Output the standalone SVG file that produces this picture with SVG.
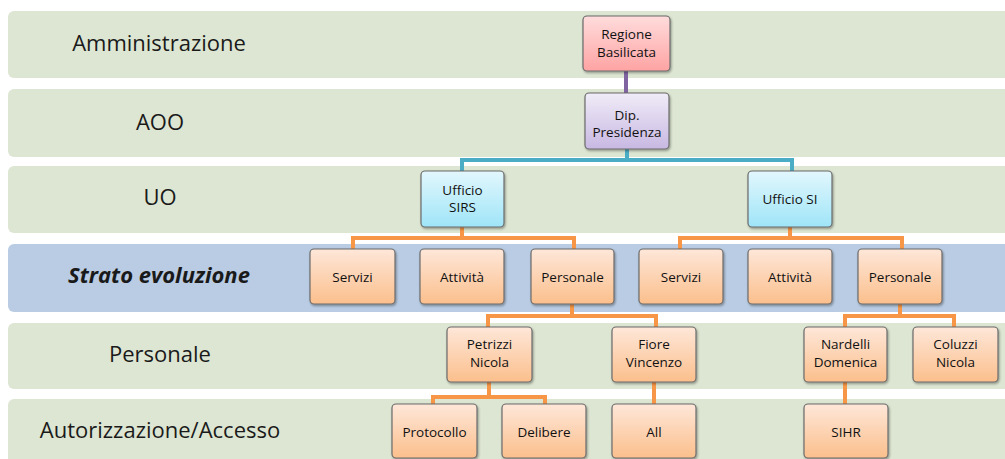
<svg xmlns="http://www.w3.org/2000/svg" width="1005" height="459" viewBox="0 0 1005 459">
<defs>
<linearGradient id="gPink" x1="0" y1="0" x2="0" y2="1"><stop offset="0" stop-color="#ffdcdc"/><stop offset="1" stop-color="#ffa3a3"/></linearGradient>
<linearGradient id="gLav" x1="0" y1="0" x2="0" y2="1"><stop offset="0" stop-color="#f0ecf8"/><stop offset="1" stop-color="#c8b8e2"/></linearGradient>
<linearGradient id="gCyan" x1="0" y1="0" x2="0" y2="1"><stop offset="0" stop-color="#e2f7fd"/><stop offset="1" stop-color="#9fe5f8"/></linearGradient>
<linearGradient id="gOr" x1="0" y1="0" x2="0" y2="1"><stop offset="0" stop-color="#fee7d9"/><stop offset="1" stop-color="#fbbf8c"/></linearGradient>
<filter id="sh" x="-10%" y="-10%" width="130%" height="130%"><feDropShadow dx="1" dy="1.5" stdDeviation="1.2" flood-color="#000" flood-opacity="0.35"/></filter>
<style>
.band{fill:#dde6d2}
.bandb{fill:#b9cce3}
.lbl{font-family:"Open Sans","Liberation Sans",sans-serif;font-size:22px;fill:#1a1a1a;text-anchor:middle}
.node rect{stroke:#6b6b6b;stroke-width:1.2;filter:url(#sh)}
.node text{font-family:"Open Sans","Liberation Sans",sans-serif;font-size:13.5px;fill:#111;text-anchor:middle}
.c{fill:none;stroke-width:4;stroke-linejoin:miter}
.cp{stroke:#8064a2}
.ct{stroke:#4bacc6}
.co{stroke:#f79646}
</style>
</defs>
<rect width="1005" height="459" fill="#ffffff"/>
<g id="bands">
<rect class="band" x="8" y="11" width="1010" height="67" rx="6"/>
<rect class="band" x="8" y="89" width="1010" height="68" rx="6"/>
<rect class="band" x="8" y="166" width="1010" height="67" rx="6"/>
<rect class="bandb" x="8" y="244" width="1010" height="68" rx="6"/>
<rect class="band" x="8" y="323" width="1010" height="66" rx="6"/>
<rect class="band" x="8" y="399" width="1010" height="70" rx="6"/>
<text class="lbl" x="159" y="51">Amministrazione</text>
<text class="lbl" x="160" y="130">AOO</text>
<text class="lbl" x="160" y="205">UO</text>
<text class="lbl" x="159" y="283" font-weight="bold" font-style="italic">Strato evoluzione</text>
<text class="lbl" x="160" y="362">Personale</text>
<text class="lbl" x="160" y="438">Autorizzazione/Accesso</text>
</g>
<g id="connectors">
<path class="c cp" d="M626 71V93"/>
<path class="c ct" d="M627 149V160M462 171V160H792V171"/>
<path class="c co" d="M462 227V238M353 249V238H574V249"/>
<path class="c co" d="M790 227V238M680 249V238H902V249"/>
<path class="c co" d="M572 304V316M488 327V316H656V327"/>
<path class="c co" d="M900 304V316M845 327V316H954V327"/>
<path class="c co" d="M489 382V397M433 404V397H545V404"/>
<path class="c co" d="M654 382V404"/>
<path class="c co" d="M845 382V404"/>
</g>
<g id="n-regione" class="node"><rect x="583" y="16" width="87" height="55" rx="4" fill="url(#gPink)"/><text x="626.5" y="39">Regione</text><text x="626.5" y="57">Basilicata</text></g>
<g id="n-dip" class="node"><rect x="585" y="93" width="84" height="56" rx="4" fill="url(#gLav)"/><text x="627" y="120">Dip.</text><text x="627" y="137">Presidenza</text></g>
<g id="n-sirs" class="node"><rect x="421" y="171" width="83" height="56" rx="4" fill="url(#gCyan)"/><text x="462.5" y="195">Ufficio</text><text x="462.5" y="212">SIRS</text></g>
<g id="n-si" class="node"><rect x="748" y="171" width="84" height="56" rx="4" fill="url(#gCyan)"/><text x="790" y="204">Ufficio SI</text></g>
<g id="n-servizi1" class="node"><rect x="310" y="249" width="85" height="55" rx="4" fill="url(#gOr)"/><text x="352.5" y="282">Servizi</text></g>
<g id="n-attivita1" class="node"><rect x="420" y="249" width="84" height="55" rx="4" fill="url(#gOr)"/><text x="462" y="282">Attività</text></g>
<g id="n-personale1" class="node"><rect x="531" y="249" width="83" height="55" rx="4" fill="url(#gOr)"/><text x="572.5" y="282">Personale</text></g>
<g id="n-servizi2" class="node"><rect x="639" y="249" width="84" height="55" rx="4" fill="url(#gOr)"/><text x="681" y="282">Servizi</text></g>
<g id="n-attivita2" class="node"><rect x="748" y="249" width="84" height="55" rx="4" fill="url(#gOr)"/><text x="790" y="282">Attività</text></g>
<g id="n-personale2" class="node"><rect x="858" y="249" width="84" height="55" rx="4" fill="url(#gOr)"/><text x="900" y="282">Personale</text></g>
<g id="n-petrizzi" class="node"><rect x="447" y="327" width="85" height="55" rx="4" fill="url(#gOr)"/><text x="489.5" y="349">Petrizzi</text><text x="489.5" y="367">Nicola</text></g>
<g id="n-fiore" class="node"><rect x="612" y="327" width="84" height="55" rx="4" fill="url(#gOr)"/><text x="654" y="349">Fiore</text><text x="654" y="367">Vincenzo</text></g>
<g id="n-nardelli" class="node"><rect x="804" y="327" width="83" height="55" rx="4" fill="url(#gOr)"/><text x="845.5" y="349">Nardelli</text><text x="845.5" y="367">Domenica</text></g>
<g id="n-coluzzi" class="node"><rect x="913" y="327" width="85" height="55" rx="4" fill="url(#gOr)"/><text x="955.5" y="349">Coluzzi</text><text x="955.5" y="367">Nicola</text></g>
<g id="n-protocollo" class="node"><rect x="392" y="404" width="85" height="54" rx="4" fill="url(#gOr)"/><text x="434.5" y="437">Protocollo</text></g>
<g id="n-delibere" class="node"><rect x="502" y="404" width="84" height="54" rx="4" fill="url(#gOr)"/><text x="544" y="437">Delibere</text></g>
<g id="n-all" class="node"><rect x="612" y="404" width="84" height="54" rx="4" fill="url(#gOr)"/><text x="654" y="437">All</text></g>
<g id="n-sihr" class="node"><rect x="804" y="404" width="84" height="54" rx="4" fill="url(#gOr)"/><text x="846" y="437">SIHR</text></g>
</svg>
